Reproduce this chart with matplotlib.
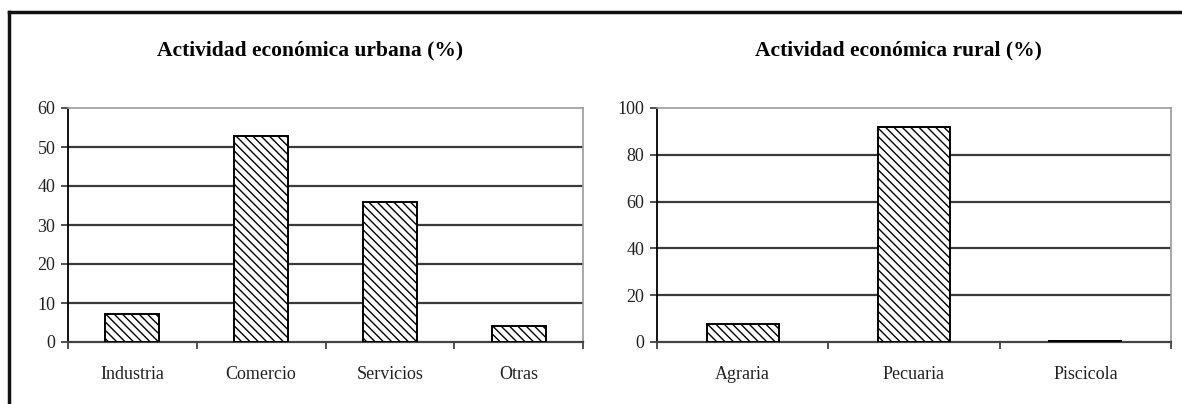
import numpy as np
import matplotlib
matplotlib.use("Agg")
from matplotlib import pyplot as plt
from matplotlib.lines import Line2D

# urban economic activity (%)
urb_cats = ["Industria", "Comercio", "Servicios", "Otras"]
urb_vals = [7.2, 52.9, 35.8, 4.2]

# rural economic activity (%)
rur_cats = ["Agraria", "Pecuaria", "Piscicola"]
rur_vals = [7.9, 91.7, 0.4]

plt.rcParams['font.family'] = ['Liberation Serif', 'DejaVu Serif']
plt.rcParams['hatch.linewidth'] = 1.0

fig = plt.figure(figsize=(11.82, 4.04), dpi=100)

W, H = 1182.0, 404.0


def panel(rect, cats, vals, ymax, ystep, title, title_x):
    ax = fig.add_axes(rect)
    n = len(cats)
    x = np.arange(n)
    ax.set_xlim(-0.5, n - 0.5)
    ax.set_ylim(0, ymax)
    yt = np.arange(0, ymax + 1, ystep)
    for y in yt[1:-1]:
        ax.axhline(y, color='#3a3a3a', lw=1.6, zorder=1)
    ax.bar(x, vals, width=0.42, color='white', edgecolor='black',
           hatch='\\\\\\\\', linewidth=1.4, zorder=3)
    ax.set_yticks(yt)
    ax.set_yticklabels([str(int(v)) for v in yt], fontsize=13, color='#222222')
    ax.set_xticks(np.arange(n + 1) - 0.5)
    ax.set_xticklabels([])
    ax.set_xticks(x, minor=True)
    ax.set_xticklabels(cats, minor=True, fontsize=13, color='#222222')
    ax.tick_params(axis='x', which='minor', length=0, pad=17)
    ax.tick_params(axis='x', which='major', length=5, width=1.2,
                   direction='out', color='#333333')
    ax.tick_params(axis='y', length=5, width=1.2, direction='out', pad=4,
                   color='#333333')
    ax.spines['left'].set_color('black')
    ax.spines['left'].set_linewidth(1.3)
    ax.spines['bottom'].set_color('#444444')
    ax.spines['bottom'].set_linewidth(1.6)
    ax.spines['top'].set_color('#999999')
    ax.spines['top'].set_linewidth(1.2)
    ax.spines['right'].set_color('#999999')
    ax.spines['right'].set_linewidth(1.2)
    fig.text(title_x / W, 1 - 50 / H, title, ha='center', va='center',
             fontsize=15.5, fontweight='bold')
    return ax


y0 = 1 - 342 / H
hgt = (342 - 108) / H
panel([68 / W, y0, (583 - 68) / W, hgt], urb_cats, urb_vals, 60, 10,
      "Actividad económica urbana (%)", 310)
panel([657 / W, y0, (1171 - 657) / W, hgt], rur_cats, rur_vals, 100, 20,
      "Actividad económica rural (%)", 898)

# outer frame, open on the right and bottom
fig.add_artist(Line2D([9.5 / W, 9.5 / W], [0, 1 - 11.5 / H], color='#111111',
                      lw=2.5, transform=fig.transFigure))
fig.add_artist(Line2D([8.5 / W, 1], [1 - 11.5 / H, 1 - 11.5 / H], color='#111111',
                      lw=2.5, transform=fig.transFigure))

fig.savefig("out.png", dpi=100)
